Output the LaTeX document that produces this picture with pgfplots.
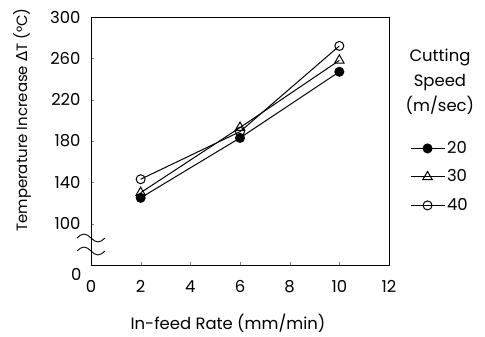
\documentclass[border=0pt]{standalone}
\usepackage{fontspec}
\setmainfont{Poppins}
\newfontfamily\dejavu{DejaVu Sans}
\usepackage{pgfplots}
\pgfplotsset{compat=1.18}
\begin{document}
\fontsize{16}{19}\selectfont
\begin{tikzpicture}
\useasboundingbox (0,0) rectangle (485bp,337bp);
\begin{axis}[
  at={(91bp,72bp)}, anchor=south west,
  scale only axis, width=298bp, height=248bp,
  xmin=0, xmax=12, ymin=60, ymax=300,
  xtick={0,2,...,12}, ytick={100,140,...,300},
  tick align=inside, major tick length=3bp,
  xtick pos=bottom, ytick pos=left,
  axis line style={line width=0.7pt},
  /pgf/number format/assume math mode=true,
  tick label style={font=\fontsize{16.5}{19}\selectfont},
  xticklabel style={yshift=-10bp},
  yticklabel style={xshift=-5bp},
  clip=false,
  legend style={draw=none, fill=none, at={(rel axis cs:1.07,0.508)}, anchor=north west,
    font=\fontsize{16.5}{19}\selectfont, row sep=10bp, inner sep=0pt},
  legend cell align=left,
  legend image code/.code={\draw[mark repeat=2,mark phase=2,#1] plot coordinates {(0bp,0bp)(17bp,0bp)(34bp,0bp)};},
]
\addplot[black, line width=1pt, mark=*, mark size=4.5bp, mark options={solid, fill=black}] coordinates {(2,125) (6,183) (10,247)};
\addlegendentry{20}
\addplot[black, line width=1pt, mark=triangle, mark size=5.5bp, mark options={solid, fill=white}] coordinates {(2,130) (6,193) (10,258)};
\addlegendentry{30}
\addplot[black, line width=1pt, mark=o, mark size=4.5bp, mark options={solid, fill=white}] coordinates {(2,143) (6,189) (10,272)};
\addlegendentry{40}
\node[anchor=east, font=\fontsize{16.5}{19}\selectfont] at ([shift={(-4bp,-9bp)}]rel axis cs:0,0) {0};
\node[align=center, font=\fontsize{16.5}{25}\selectfont] at (rel axis cs:1.171,0.738) {Cutting\\Speed\\(m/sec)};
\draw[line width=0.9pt] ([shift={(-14bp,14bp)}]rel axis cs:0,0) sin ++(7bp,4bp) cos ++(7bp,-4bp) sin ++(7bp,-4bp) cos ++(7bp,4bp);
\draw[line width=0.9pt] ([shift={(-14bp,27bp)}]rel axis cs:0,0) sin ++(7bp,4bp) cos ++(7bp,-4bp) sin ++(7bp,-4bp) cos ++(7bp,4bp);
\end{axis}
\node[rotate=90, font=\fontsize{15}{18}\selectfont] at (22bp,217bp) {Temperature Increase {\dejavu Δ}T (°C)};
\node[font=\fontsize{16.5}{20}\selectfont] at (228bp,14bp) {In-feed Rate (mm/min)};
\end{tikzpicture}
\end{document}
